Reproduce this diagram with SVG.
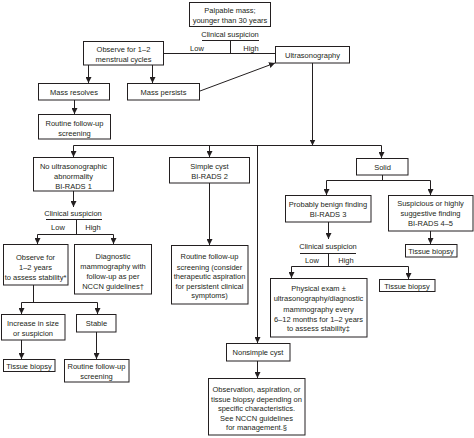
<svg xmlns="http://www.w3.org/2000/svg" width="474" height="438" viewBox="0 0 474 438">
<defs>
<marker id="ah" markerUnits="userSpaceOnUse" markerWidth="6" markerHeight="6" refX="6" refY="3" orient="auto">
<path d="M0,0 L6,3 L0,6 z" fill="#231f20"/>
</marker>
<style>
rect{fill:#fff;stroke:#231f20;stroke-width:1}
text{font-family:"Liberation Sans",Arial,sans-serif;font-size:7.5px;fill:#231f20;text-anchor:middle}
.c line,.c path,.c polyline{stroke:#231f20;stroke-width:1;fill:none}
.a{marker-end:url(#ah)}
</style>
</defs>
<rect x="0" y="0" width="474" height="438" style="fill:#fff;stroke:none"/>

<g id="connectors" class="c">
<line x1="164" y1="53.5" x2="275" y2="53.5"/>
<line x1="88.5" y1="65" x2="88.5" y2="83" class="a"/>
<line x1="152.5" y1="65" x2="152.5" y2="83" class="a"/>
<line x1="74.5" y1="100" x2="74.5" y2="114" class="a"/>
<line x1="200" y1="91" x2="275" y2="63" class="a"/>
<line x1="312.5" y1="63" x2="312.5" y2="145.5" class="a"/>
<line x1="73.5" y1="145.5" x2="381.5" y2="145.5"/>
<line x1="73.5" y1="145.5" x2="73.5" y2="157" class="a"/>
<line x1="209.5" y1="145.5" x2="209.5" y2="157" class="a"/>
<line x1="381.5" y1="145.5" x2="381.5" y2="158" class="a"/>
<line x1="257.5" y1="145.5" x2="257.5" y2="343" class="a"/>
<line x1="73.5" y1="191" x2="73.5" y2="207" class="a"/>
<line x1="37.5" y1="234.5" x2="113.5" y2="234.5"/>
<line x1="37.5" y1="234.5" x2="37.5" y2="244" class="a"/>
<line x1="113.5" y1="234.5" x2="113.5" y2="244" class="a"/>
<line x1="33.5" y1="285" x2="33.5" y2="302.5"/>
<line x1="21.5" y1="302.5" x2="97.5" y2="302.5"/>
<line x1="21.5" y1="302.5" x2="21.5" y2="314" class="a"/>
<line x1="97.5" y1="302.5" x2="97.5" y2="314" class="a"/>
<line x1="21.5" y1="340" x2="21.5" y2="359" class="a"/>
<line x1="96.5" y1="332" x2="96.5" y2="359" class="a"/>
<line x1="209.5" y1="183" x2="209.5" y2="245" class="a"/>
<line x1="257.5" y1="361" x2="257.5" y2="378" class="a"/>
<line x1="382.5" y1="175" x2="382.5" y2="180.5"/>
<line x1="326.5" y1="180.5" x2="430.5" y2="180.5"/>
<line x1="326.5" y1="180.5" x2="326.5" y2="195" class="a"/>
<line x1="430.5" y1="180.5" x2="430.5" y2="195" class="a"/>
<line x1="430.5" y1="231" x2="430.5" y2="244" class="a"/>
<line x1="328.5" y1="222" x2="328.5" y2="239" class="a"/>
<line x1="291.5" y1="266.5" x2="408.5" y2="266.5"/>
<line x1="291.5" y1="266.5" x2="291.5" y2="278" class="a"/>
<line x1="408.5" y1="266.5" x2="408.5" y2="279" class="a"/>
</g>

<g id="decision-1" class="c">
<text x="230" y="37">Clinical suspicion</text>
<line x1="202" y1="40.5" x2="259" y2="40.5"/>
<line x1="230.5" y1="40.5" x2="230.5" y2="53.5"/>
<text x="197" y="51">Low</text>
<text x="251" y="51">High</text>
</g>
<g id="decision-2" class="c">
<text x="73" y="216">Clinical suspicion</text>
<line x1="46" y1="219.5" x2="102" y2="219.5"/>
<line x1="76.5" y1="219.5" x2="76.5" y2="234.5"/>
<text x="58" y="230">Low</text>
<text x="93" y="230">High</text>
</g>
<g id="decision-3" class="c">
<text x="328" y="249">Clinical suspicion</text>
<line x1="300" y1="253.5" x2="356" y2="253.5"/>
<line x1="328.5" y1="253.5" x2="328.5" y2="266.5"/>
<text x="312" y="263">Low</text>
<text x="346" y="263">High</text>
</g>

<g id="n-palpable"><rect x="189.5" y="2.5" width="81" height="24"/>
<text x="230" y="12.5">Palpable mass;</text><text x="230" y="23">younger than 30 years</text></g>
<g id="n-observe-cycles"><rect x="83.5" y="41.5" width="80" height="23.5"/>
<text x="123.5" y="51.5">Observe for 1–2</text><text x="123.5" y="61.5">menstrual cycles</text></g>
<g id="n-mass-resolves"><rect x="38.5" y="83.5" width="71" height="16.5"/>
<text x="74" y="94.5">Mass resolves</text></g>
<g id="n-mass-persists"><rect x="127.5" y="83.5" width="72" height="16.5"/>
<text x="163.5" y="94.5">Mass persists</text></g>
<g id="n-routine-1"><rect x="38.5" y="114.5" width="72" height="24.5"/>
<text x="74.5" y="125.5">Routine follow-up</text><text x="74.5" y="135.5">screening</text></g>
<g id="n-ultrasonography"><rect x="275.5" y="46.5" width="74" height="16.5"/>
<text x="312.5" y="57.5">Ultrasonography</text></g>
<g id="n-birads1"><rect x="33.5" y="157.5" width="80" height="33.5"/>
<text x="73.5" y="169">No ultrasonographic</text><text x="73.5" y="179">abnormality</text><text x="73.5" y="189">BI-RADS 1</text></g>
<g id="n-observe-years"><rect x="3.5" y="244.5" width="64.5" height="40.5"/>
<text x="35.5" y="259.5">Observe for</text><text x="35.5" y="269.5">1–2 years</text><text x="35.5" y="279.5">to assess stability*</text></g>
<g id="n-diagnostic"><rect x="74.5" y="244.5" width="77" height="49.5"/>
<text x="113" y="259">Diagnostic</text><text x="113" y="269">mammography with</text><text x="113" y="279">follow-up as per</text><text x="113" y="289">NCCN guidelines†</text></g>
<g id="n-increase"><rect x="1.5" y="314.5" width="63.5" height="25.5"/>
<text x="33" y="326">Increase in size</text><text x="33" y="336">or suspicion</text></g>
<g id="n-stable"><rect x="76.5" y="314.5" width="39.5" height="17.5"/>
<text x="96.5" y="326">Stable</text></g>
<g id="n-tissue-1"><rect x="3.5" y="359.5" width="51.5" height="12"/>
<text x="29" y="368.5">Tissue biopsy</text></g>
<g id="n-routine-2"><rect x="64.5" y="359.5" width="64.5" height="22.5"/>
<text x="96.5" y="369">Routine follow-up</text><text x="96.5" y="379">screening</text></g>
<g id="n-birads2"><rect x="169.5" y="157.5" width="80" height="25.5"/>
<text x="209.5" y="169">Simple cyst</text><text x="209.5" y="179">BI-RADS 2</text></g>
<g id="n-routine-3"><rect x="171.5" y="245.5" width="76.5" height="58.5"/>
<text x="209.5" y="259">Routine follow-up</text><text x="209.5" y="269.5">screening (consider</text><text x="209.5" y="279">therapeutic aspiration</text><text x="209.5" y="288.5">for persistent clinical</text><text x="209.5" y="298">symptoms)</text></g>
<g id="n-nonsimple"><rect x="226.5" y="343.5" width="63.5" height="17.5"/>
<text x="258" y="355">Nonsimple cyst</text></g>
<g id="n-observation"><rect x="208.5" y="378.5" width="96.5" height="56.5"/>
<text x="256.5" y="392">Observation, aspiration, or</text><text x="256.5" y="401.5">tissue biopsy depending on</text><text x="256.5" y="411">specific characteristics.</text><text x="256.5" y="420.5">See NCCN guidelines</text><text x="256.5" y="430">for management.§</text></g>
<g id="n-solid"><rect x="356.5" y="158.5" width="51.5" height="16.5"/>
<text x="382.5" y="169.5">Solid</text></g>
<g id="n-birads3"><rect x="285.5" y="195.5" width="85.5" height="26.5"/>
<text x="328" y="206.5">Probably benign finding</text><text x="328" y="216.5">BI-RADS 3</text></g>
<g id="n-birads45"><rect x="388.5" y="195.5" width="84.5" height="35.5"/>
<text x="430.5" y="206">Suspicious or highly</text><text x="430.5" y="216">suggestive finding</text><text x="430.5" y="226">BI-RADS 4–5</text></g>
<g id="n-tissue-2"><rect x="405.5" y="244.5" width="51.5" height="12.5"/>
<text x="431" y="253.5">Tissue biopsy</text></g>
<g id="n-physical"><rect x="270.5" y="278.5" width="96.5" height="58.5"/>
<text x="318.5" y="291">Physical exam ±</text><text x="318.5" y="301">ultrasonography/diagnostic</text><text x="318.5" y="311.5">mammography every</text><text x="318.5" y="321.5">6–12 months for 1–2 years</text><text x="318.5" y="331">to assess stability‡</text></g>
<g id="n-tissue-3"><rect x="379.5" y="279.5" width="55.5" height="12"/>
<text x="407" y="288.5">Tissue biopsy</text></g>
</svg>
